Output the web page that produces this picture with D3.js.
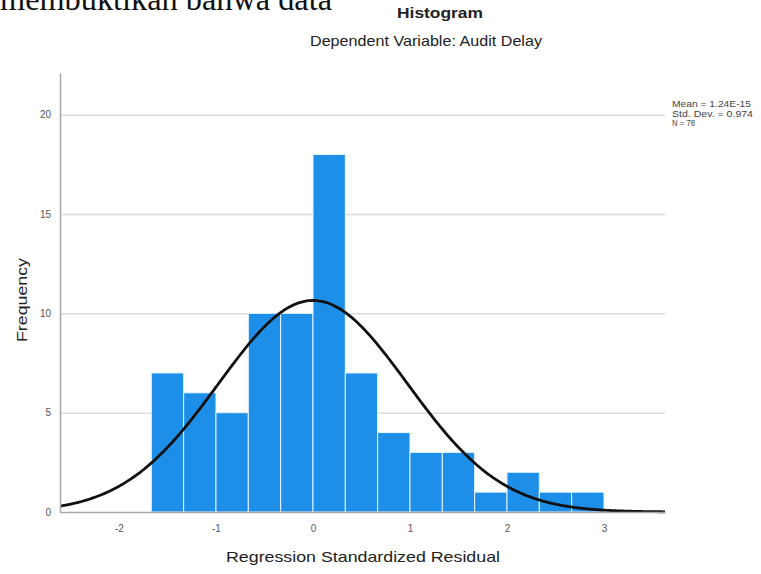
<!DOCTYPE html>
<html>
<head>
<meta charset="utf-8">
<script src="https://cdn.jsdelivr.net/npm/d3@7"></script>
<style>
  body { margin: 0; background: #fff; }
  text { font-family: "Liberation Sans", Arial, sans-serif; }
  .tick text { fill: #555; font-size: 10px; }
</style>
</head>
<body>
<svg id="chart"></svg>
<script>
// chart size
const width = 761;
const height = 574;

// histogram values
const binStart = -5 / 3;
const binWidth = 1 / 3;
const counts = [7, 6, 5, 10, 10, 18, 7, 4, 3, 3, 1, 2, 1, 1];

// axis ticks
const xTicks = [-2, -1, 0, 1, 2, 3];
const yTicks = [0, 5, 10, 15, 20];

// summary stats shown in the legend
const statMean = 1.24e-15;
const statSd = 0.974;
const statN = 78;
const statLabels = ["Mean = 1.24E-15", "Std. Dev. = 0.974", "N = 78"];

const svg = d3.select("#chart")
  .attr("width", width)
  .attr("height", height);

const xScale = d3.scaleLinear()
  .domain([-2.608, 3.629])
  .range([60, 665]);

const yScale = d3.scaleLinear()
  .domain([0, 22.1])
  .range([512, 73]);

drawHeader();
drawGrid();
drawBars();
drawCurve();
drawAxis();
drawTitles();
drawStats();

function translate(x, y) {
  return "translate(" + String(x) + "," + String(y) + ")";
}

// piece of the surrounding document text, cut off at the top
function drawHeader() {
  svg.append("text")
    .attr("x", 0)
    .attr("y", 10)
    .attr("textLength", 332)
    .attr("lengthAdjust", "spacingAndGlyphs")
    .style("font-family", "'Liberation Serif', 'Times New Roman', serif")
    .style("font-size", "33px")
    .style("fill", "#111")
    .text("membuktikan bahwa data");
}

function drawGrid() {
  let yGrid = d3.axisLeft(yScale)
    .tickValues(yTicks.filter(d => d > 0))
    .tickSize(-(xScale.range()[1] - xScale.range()[0]))
    .tickFormat("");

  svg.append("g")
    .attr("class", "ygrid")
    .attr("transform", translate(xScale.range()[0], 0))
    .call(yGrid)
    .call(g => g.select("path.domain").remove())
    .selectAll("line")
    .attr("stroke", "#dcdcdc")
    .attr("stroke-width", 1.5);
}

function drawBars() {
  svg.append("g")
    .attr("id", "bars")
    .selectAll("rect")
    .data(counts)
    .enter()
    .append("rect")
    .attr("x", (d, i) => xScale(binStart + i * binWidth))
    .attr("y", d => yScale(d))
    .attr("width", (d, i) => xScale(binStart + (i + 1) * binWidth) - xScale(binStart + i * binWidth))
    .attr("height", d => yScale(0) - yScale(d))
    .attr("fill", "#1e8fe8")
    .attr("stroke", "#e6f4ff")
    .attr("stroke-width", 1);
}

// fitted normal curve from the legend stats
function drawCurve() {
  let dom = xScale.domain();
  let xs = d3.range(dom[0], dom[1], 0.02).concat([dom[1]]);
  let scale = statN * binWidth / (statSd * Math.sqrt(2 * Math.PI));
  let line = d3.line()
    .x(d => xScale(d))
    .y(d => yScale(scale * Math.exp(-0.5 * Math.pow((d - statMean) / statSd, 2))))
    .curve(d3.curveBasis);

  svg.append("path")
    .datum(xs)
    .attr("d", line)
    .attr("fill", "none")
    .attr("stroke", "#111")
    .attr("stroke-width", 2.8);
}

function drawAxis() {
  let xAxis = d3.axisBottom(xScale).tickValues(xTicks).tickFormat(d => String(d))
    .tickSize(0).tickPadding(13).tickSizeOuter(0);
  let yAxis = d3.axisLeft(yScale).tickValues(yTicks).tickFormat(d => String(d))
    .tickSize(0).tickPadding(9).tickSizeOuter(0);

  let gx = svg.append("g")
    .attr("id", "x-axis")
    .attr("transform", translate(0, yScale(0)))
    .call(xAxis);
  gx.select("path.domain").attr("stroke", "#a8a8a8").attr("stroke-width", 1.5);

  let gy = svg.append("g")
    .attr("id", "y-axis")
    .attr("transform", translate(xScale.range()[0], 0))
    .call(yAxis);
  gy.select("path.domain").attr("stroke", "#a8a8a8").attr("stroke-width", 1.5);
}

function drawTitles() {
  svg.append("text")
    .attr("x", 397)
    .attr("y", 18)
    .attr("textLength", 86)
    .attr("lengthAdjust", "spacingAndGlyphs")
    .style("font-size", "15px")
    .style("font-weight", "bold")
    .style("fill", "#222")
    .text("Histogram");

  svg.append("text")
    .attr("x", 310)
    .attr("y", 46)
    .attr("textLength", 232)
    .attr("lengthAdjust", "spacingAndGlyphs")
    .style("font-size", "15px")
    .style("fill", "#222")
    .text("Dependent Variable: Audit Delay");

  svg.append("text")
    .attr("x", 226)
    .attr("y", 562)
    .attr("textLength", 274)
    .attr("lengthAdjust", "spacingAndGlyphs")
    .style("font-size", "15px")
    .style("fill", "#222")
    .text("Regression Standardized Residual");

  svg.append("g")
    .attr("transform", translate(22, 300))
    .append("text")
    .attr("x", -42)
    .attr("dy", "0.35em")
    .attr("textLength", 84)
    .attr("lengthAdjust", "spacingAndGlyphs")
    .attr("transform", "rotate(-90)")
    .style("font-size", "14px")
    .style("fill", "#222")
    .text("Frequency");
}

function drawStats() {
  let widths = [79, 81, 23];
  svg.append("g")
    .attr("id", "stats")
    .selectAll("text")
    .data(statLabels)
    .enter()
    .append("text")
    .attr("x", 672)
    .attr("y", (d, i) => 107 + i * 9.5)
    .attr("textLength", (d, i) => widths[i])
    .attr("lengthAdjust", "spacingAndGlyphs")
    .style("font-size", "8.5px")
    .style("fill", "#444")
    .text(d => d);
}
</script>
</body>
</html>
